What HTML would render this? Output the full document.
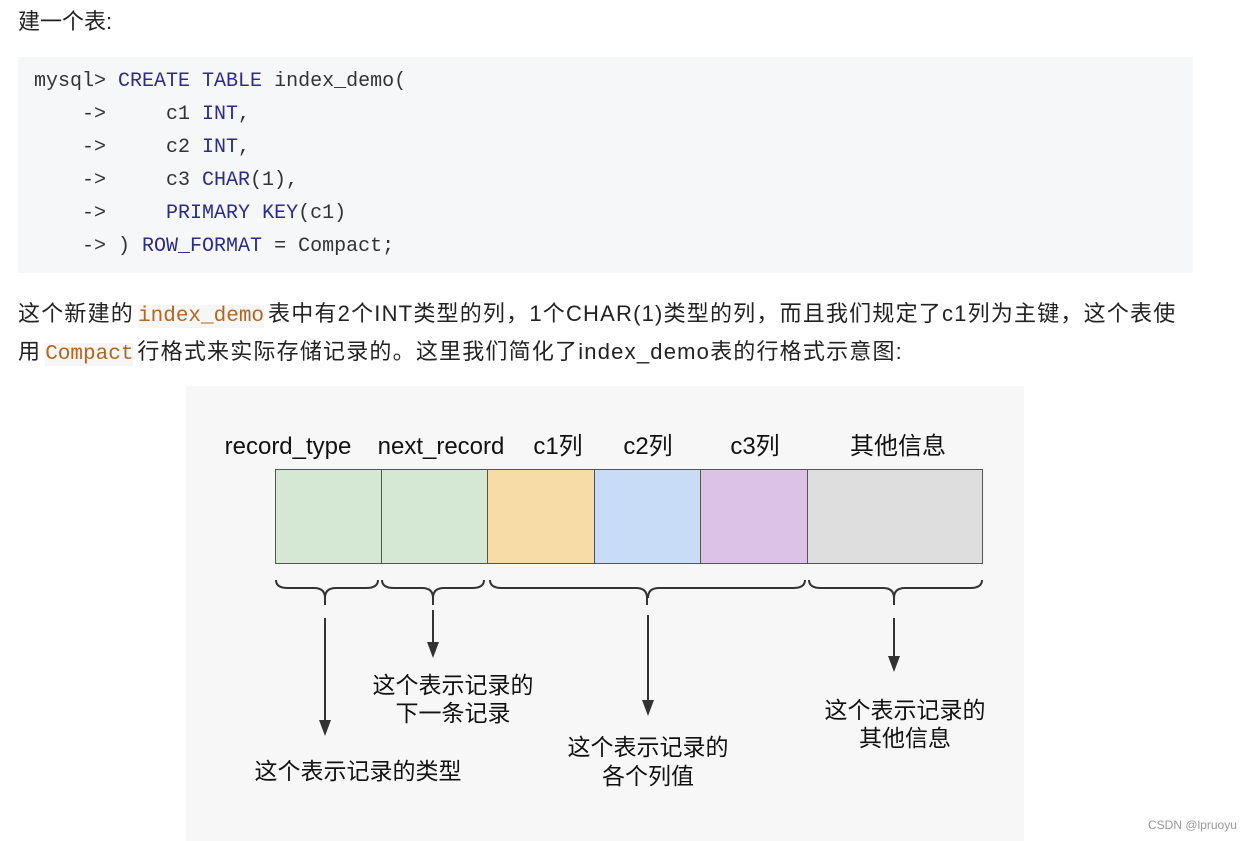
<!DOCTYPE html>
<html><head><meta charset="utf-8"><style>
body{margin:0;width:1251px;height:841px;background:#fff;position:relative;overflow:hidden;font-family:"Liberation Sans","Noto Sans CJK SC",sans-serif;color:#222}
.t{position:absolute;white-space:nowrap}
.code{position:absolute;left:18px;top:57px;width:1175px;height:216px;background:#f6f7f8}
.cl{position:absolute;left:34px;font-family:"Liberation Mono",monospace;font-size:20px;color:#333;white-space:pre}
.k{color:#2b2b8c}
.ic{font-family:"Liberation Mono",monospace;color:#b5651d;background:#f6f6f6;font-size:21px;letter-spacing:0;margin:0 4px}
.p{font-size:22px;color:#222;letter-spacing:1.2px}
</style></head><body>
<div class="t" style="left:18px;top:4px;font-size:22px">建一个表:</div>
<div class="code"></div>
<div class="cl" style="top:70px">mysql&gt; <span class="k">CREATE</span> <span class="k">TABLE</span> index_demo(</div>
<div class="cl" style="top:103px">    -&gt;     c1 <span class="k">INT</span>,</div>
<div class="cl" style="top:136px">    -&gt;     c2 <span class="k">INT</span>,</div>
<div class="cl" style="top:169px">    -&gt;     c3 <span class="k">CHAR</span>(1),</div>
<div class="cl" style="top:202px">    -&gt;     <span class="k">PRIMARY</span> <span class="k">KEY</span>(c1)</div>
<div class="cl" style="top:235px">    -&gt; ) <span class="k">ROW_FORMAT</span> = Compact;</div>
<div class="t p" style="left:18px;top:296px">这个新建的<span class="ic">index_demo</span>表中有2个INT类型的列，1个CHAR(1)类型的列，而且我们规定了c1列为主键，这个表使</div>
<div class="t p" style="left:18px;top:334px">用<span class="ic">Compact</span>行格式来实际存储记录的。这里我们简化了index_demo表的行格式示意图:</div>
<svg style="position:absolute;left:0;top:0" width="1251" height="841" font-family="Liberation Sans,Noto Sans CJK SC,sans-serif">
<rect x="186" y="386" width="838" height="455" fill="#f7f7f7"/>
<g font-size="24" fill="#111" text-anchor="middle">
<text x="288" y="454">record_type</text><text x="441" y="454">next_record</text>
<text x="558" y="454">c1列</text><text x="648" y="454">c2列</text><text x="755" y="454">c3列</text><text x="898" y="454">其他信息</text>
</g>
<g stroke="#555" stroke-width="1">
<rect x="275.5" y="469.5" width="106" height="94" fill="#d5e8d4"/>
<rect x="381.5" y="469.5" width="106" height="94" fill="#d5e8d4"/>
<rect x="487.5" y="469.5" width="107" height="94" fill="#f8dca8"/>
<rect x="594.5" y="469.5" width="106" height="94" fill="#c9dcf7"/>
<rect x="700.5" y="469.5" width="107" height="94" fill="#dbc2e6"/>
<rect x="807.5" y="469.5" width="175" height="94" fill="#dedede"/>
</g>
<g fill="none" stroke="#333" stroke-width="2">
<path d="M276 580 q0 8 12 8 h26 q11 0 11 10 v7 M378 580 q0 8 -12 8 h-30 q-11 0 -11 10"/>
<path d="M382 580 q0 8 12 8 h28 q11 0 11 10 v7 M484 580 q0 8 -12 8 h-28 q-11 0 -11 10"/>
<path d="M490 580 q0 8 12 8 h134 q11 0 11 10 v7 M805 580 q0 8 -12 8 h-134 q-11 0 -11 10"/>
<path d="M809 580 q0 8 12 8 h62 q11 0 11 10 v7 M982 580 q0 8 -12 8 h-65 q-11 0 -11 10"/>
<path d="M325 618 V722 M433 610 V645 M648 615 V702 M894 618 V660"/>
</g>
<g fill="#333">
<path d="M319 720 h12 l-6 16z"/><path d="M427 642 h12 l-6 16z"/><path d="M642 700 h12 l-6 16z"/><path d="M888 656 h12 l-6 16z"/>
</g>
<g font-size="23" fill="#111" text-anchor="middle">
<text x="453" y="693">这个表示记录的</text><text x="453" y="721">下一条记录</text>
<text x="358" y="779">这个表示记录的类型</text>
<text x="648" y="755">这个表示记录的</text><text x="648" y="784">各个列值</text>
<text x="905" y="718">这个表示记录的</text><text x="905" y="746">其他信息</text>
</g>
<text x="1148" y="829" font-size="12" fill="#999">CSDN @lpruoyu</text>
</svg>
</body></html>
